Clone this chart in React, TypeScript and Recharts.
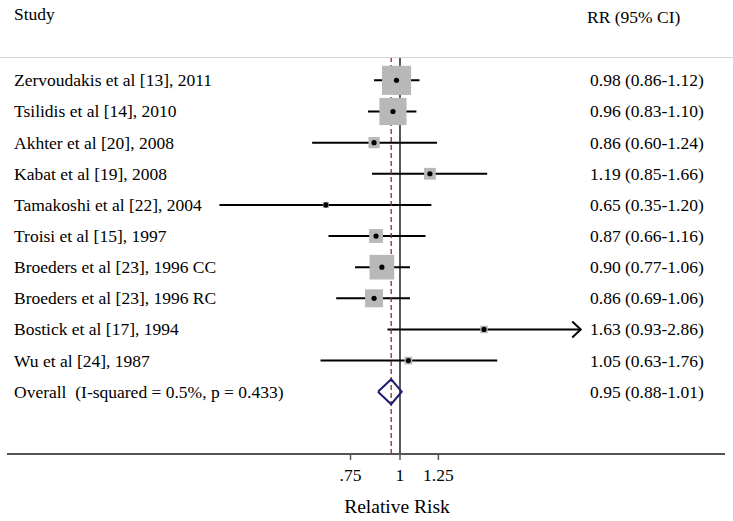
import { ComposedChart, ErrorBar, ReferenceLine, Scatter, XAxis, YAxis } from 'recharts'

const STUDIES = [
  'Zervoudakis et al [13], 2011',
  'Tsilidis et al [14], 2010',
  'Akhter et al [20], 2008',
  'Kabat et al [19], 2008',
  'Tamakoshi et al [22], 2004',
  'Troisi et al [15], 1997',
  'Broeders et al [23], 1996 CC',
  'Broeders et al [23], 1996 RC',
  'Bostick et al [17], 1994',
  'Wu et al [24], 1987',
]
const RR = [0.98, 0.96, 0.86, 1.19, 0.65, 0.87, 0.9, 0.86, 1.63, 1.05]
const LOWER = [0.86, 0.83, 0.6, 0.85, 0.35, 0.66, 0.77, 0.69, 0.93, 0.63]
const UPPER = [1.12, 1.1, 1.24, 1.66, 1.2, 1.16, 1.06, 1.06, 2.86, 1.76]
// study weights (%)
const WEIGHTS = [27.0, 23.5, 4.0, 4.4, 1.2, 6.1, 19.4, 10.3, 1.8, 1.9]
// studies whose CI is drawn with an arrow
const ARROWED = [8]

const OVERALL_LABEL = 'Overall\u00a0\u00a0(I-squared = 0.5%, p = 0.433)'
const OVERALL_RR = 0.95
const OVERALL_LOWER = 0.88
const OVERALL_UPPER = 1.01

const X_TICKS = [0.75, 1, 1.25]

const FONT = '"Liberation Serif", "Times New Roman", serif'
const W = 733
const H = 521

const OVERALL_ROW = STUDIES.length
const ROWS = [...STUDIES.map((_, i) => i), OVERALL_ROW]

const studyData = STUDIES.map((name, i) => ({
  row: i,
  rr: RR[i],
  err: [RR[i] - LOWER[i], UPPER[i] - RR[i]],
  weight: WEIGHTS[i],
}))
const labelData = ROWS.map((r) => ({ row: r, rr: 1 }))
const arrowData = ARROWED.map((i) => ({ row: i, rr: UPPER[i] }))
const DH = 0.4
const diamondData = [
  { row: OVERALL_ROW, rr: OVERALL_LOWER },
  { row: OVERALL_ROW - DH, rr: OVERALL_RR },
  { row: OVERALL_ROW, rr: OVERALL_UPPER },
  { row: OVERALL_ROW + DH, rr: OVERALL_RR },
  { row: OVERALL_ROW, rr: OVERALL_LOWER },
]

const fmt = (v: number) => v.toFixed(2)

function rowTexts(i: number) {
  if (i === OVERALL_ROW) {
    return [OVERALL_LABEL, `${fmt(OVERALL_RR)} (${fmt(OVERALL_LOWER)}-${fmt(OVERALL_UPPER)})`]
  }
  return [STUDIES[i], `${fmt(RR[i])} (${fmt(LOWER[i])}-${fmt(UPPER[i])})`]
}

// study name on the left, RR (95% CI) on the right, placed on the row's y
function RowText(props: any) {
  const { cy, payload } = props
  const [left, right] = rowTexts(payload.row)
  return (
    <g fontFamily={FONT} fontSize={17.5} fill="#000">
      <text x={14} y={cy + 6}>{left}</text>
      <text x={590} y={cy + 6}>{right}</text>
    </g>
  )
}

function Box(props: any) {
  const { cx, cy, payload } = props
  const s = 5.6 * Math.sqrt(payload.weight)
  return <rect x={cx - s / 2} y={cy - s / 2} width={s} height={s} fill="#b8b8b8" />
}

function Dot(props: any) {
  return <circle cx={props.cx} cy={props.cy} r={2.6} fill="#000" />
}

function Chevron(props: any) {
  const { cx, cy } = props
  return (
    <path
      d={`M${cx - 8.5},${cy - 8} L${cx},${cy} L${cx - 8.5},${cy + 8}`}
      fill="none"
      stroke="#000"
      strokeWidth={2}
    />
  )
}

function AxisTitle(props: any) {
  const vb = props.viewBox || { x: 7, y: 454, width: 718, height: 67 }
  return (
    <text
      x={vb.x + 390}
      y={vb.y + vb.height - 8}
      textAnchor="middle"
      fontFamily={FONT}
      fontSize={19.5}
      fill="#000"
    >
      Relative Risk
    </text>
  )
}

export default function App() {
  return (
    <div style={{ position: 'relative', width: W, height: H, background: '#fff' }}>
      <style>{'body{margin:0;background:#fff}'}</style>
      <ComposedChart width={W} height={H} margin={{ top: 57, right: 8, bottom: 0, left: 7 }}>
        <XAxis
          type="number"
          dataKey="rr"
          scale="log"
          domain={[0.1018, 6.616]}
          allowDataOverflow
          ticks={X_TICKS}
          interval={0}
          tickFormatter={(v: number) => (v < 1 ? String(v).replace(/^0/, '') : String(v))}
          height={67}
          tickSize={6}
          tickMargin={9}
          axisLine={{ stroke: '#555', strokeWidth: 2 }}
          tickLine={{ stroke: '#555', strokeWidth: 1.5 }}
          tick={{ fill: '#000', fontSize: 17.5, fontFamily: FONT }}
          label={<AxisTitle />}
        />
        <YAxis type="number" dataKey="row" domain={[-0.75, 12]} reversed hide />
        <ReferenceLine x={1} stroke="#000" strokeWidth={1.3} />
        <Scatter data={labelData} shape={<RowText />} isAnimationActive={false} />
        <Scatter data={studyData} shape={<Box />} isAnimationActive={false} />
        <Scatter data={studyData} shape={<Dot />} isAnimationActive={false}>
          <ErrorBar dataKey="err" direction="x" width={0} stroke="#000" strokeWidth={2} />
        </Scatter>
        <Scatter data={arrowData} shape={<Chevron />} isAnimationActive={false} />
        <ReferenceLine x={OVERALL_RR} stroke="#8b2a2a" strokeWidth={1.3} strokeDasharray="5 3" />
        <Scatter
          data={diamondData}
          line={{ stroke: '#1c1c70', strokeWidth: 2 }}
          shape={() => <g />}
          isAnimationActive={false}
        />
      </ComposedChart>
      <svg
        width={W}
        height={60}
        style={{ position: 'absolute', left: 0, top: 0, pointerEvents: 'none' }}
        fontFamily={FONT}
        fontSize={17.5}
      >
        <text x={14} y={20}>Study</text>
        <text x={587} y={23}>RR (95% CI)</text>
        <line x1={0} x2={W} y1={57.5} y2={57.5} stroke="#d4d4d4" strokeWidth={1} />
      </svg>
    </div>
  )
}
